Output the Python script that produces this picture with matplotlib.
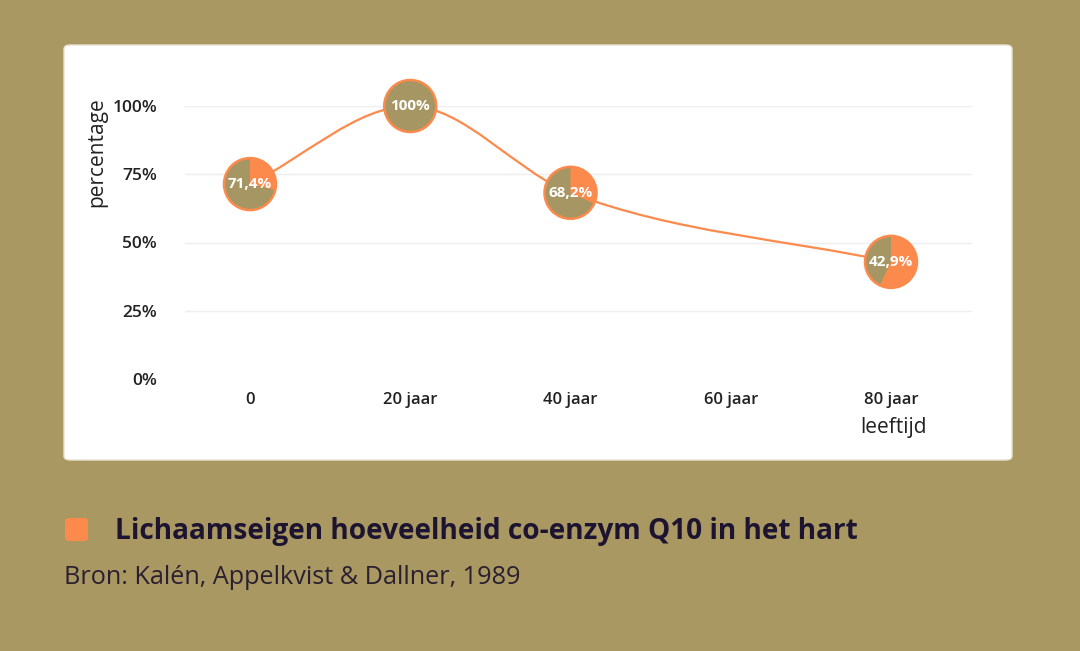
import matplotlib
matplotlib.use("Agg")
import matplotlib.pyplot as plt
import matplotlib.transforms as mtransforms
from matplotlib.patches import Wedge, Circle, FancyBboxPatch, PathPatch
from matplotlib.path import Path

plt.rcParams["font.family"] = ["Open Sans", "DejaVu Sans"]

# data
categories = ["0", "20 jaar", "40 jaar", "60 jaar", "80 jaar"]
point_idx = [0, 1, 2, 4]
values = [71.4, 100, 68.2, 42.9]
labels = ["71,4%", "100%", "68,2%", "42,9%"]
yticks = [0, 25, 50, 75, 100]
ytick_labels = ["0%", "25%", "50%", "75%", "100%"]

BG = "#a99862"
OLIVE = "#a59663"
ORANGE = "#fb8a4c"
INK = "#1c1430"

W, H = 1080, 651
fig = plt.figure(figsize=(W / 100, H / 100), dpi=100, facecolor=BG)


def fx(px):
    return px / W


def fy(py):
    return 1 - py / H


# white card
card = FancyBboxPatch((fx(64), fy(460)), fx(1012) - fx(64), fy(45) - fy(460),
                      boxstyle="round,pad=0,rounding_size=0.006",
                      transform=fig.transFigure, facecolor="white",
                      edgecolor="#e8e2d0", linewidth=1, zorder=-5)
fig.patches.append(card)

# axes: x index 0 -> px 250, 4 -> px 891 ; y 0 -> px 379, 100 -> px 106
ax = fig.add_axes([fx(185), fy(379), fx(972) - fx(185), fy(106) - fy(379)])
ax.set_zorder(2)
ax.set_facecolor("none")
step = (891 - 250) / 4
ax.set_xlim((185 - 250) / step, (972 - 250) / step)
ax.set_ylim(0, 100)
for s in ax.spines.values():
    s.set_visible(False)
ax.set_yticks(yticks)
ax.set_yticklabels(ytick_labels, fontsize=12.5, fontweight="semibold", color="#222222")
ax.set_xticks(range(len(categories)))
ax.set_xticklabels(categories, fontsize=12, fontweight="semibold", color="#222222")
ax.tick_params(length=0, axis="y", pad=20)
ax.tick_params(length=0, axis="x", pad=9)
for y in yticks[1:]:
    ax.axhline(y, color="#eeeeee", linewidth=1, zorder=1)

# smooth monotone line (bezier segments through data points)
xs = point_idx
ys = values
n = len(xs)
d = [(ys[i + 1] - ys[i]) / (xs[i + 1] - xs[i]) for i in range(n - 1)]
m = [d[0]]
for i in range(1, n - 1):
    if d[i - 1] * d[i] <= 0:
        m.append(0.0)
    else:
        m.append((d[i - 1] + d[i]) / 2)
m.append(d[-1])
verts = [(xs[0], ys[0])]
codes = [Path.MOVETO]
for i in range(n - 1):
    dx = (xs[i + 1] - xs[i]) / 3
    verts += [(xs[i] + dx, ys[i] + m[i] * dx),
              (xs[i + 1] - dx, ys[i + 1] - m[i + 1] * dx),
              (xs[i + 1], ys[i + 1])]
    codes += [Path.CURVE4] * 3
ax.add_patch(PathPatch(Path(verts, codes), facecolor="none", edgecolor=ORANGE,
                       linewidth=1.6, zorder=2, clip_on=False))

# pie markers
r = 0.26
for x, v, lab in zip(xs, values, labels):
    tr = fig.dpi_scale_trans + mtransforms.ScaledTranslation(x, v, ax.transData)
    ax.add_patch(Circle((0, 0), r, transform=tr, facecolor=OLIVE,
                        edgecolor=ORANGE, linewidth=1.8, zorder=3, clip_on=False))
    rest = 100 - v
    if rest > 0:
        ax.add_patch(Wedge((0, 0), r, 90 - rest * 3.6, 90, transform=tr,
                           facecolor=ORANGE, edgecolor="none", zorder=4,
                           clip_on=False))
    ax.text(x, v, lab, ha="center", va="center", color="white", fontsize=11,
            fontweight="bold", zorder=5)

fig.text(fx(97), fy(152), "percentage", rotation=90, ha="center", va="center",
         fontsize=15, color="#222222")
fig.text(fx(893), fy(428), "leeftijd", ha="center", va="center",
         fontsize=15, color="#222222")

# legend and source
fig.patches.append(FancyBboxPatch((fx(65), fy(541)), fx(88) - fx(65), fy(518) - fy(541),
                                  boxstyle="round,pad=0,rounding_size=0.004",
                                  transform=fig.transFigure, facecolor=ORANGE,
                                  edgecolor="none"))
fig.text(fx(115), fy(532), "Lichaamseigen hoeveelheid co-enzym Q10 in het hart",
         ha="left", va="center", fontsize=20.2, fontweight="bold", color=INK)
fig.text(fx(64), fy(577), "Bron: Kalén, Appelkvist & Dallner, 1989",
         ha="left", va="center", fontsize=18.2, color="#2a2030")

fig.savefig("out.png", dpi=100, facecolor=BG)
